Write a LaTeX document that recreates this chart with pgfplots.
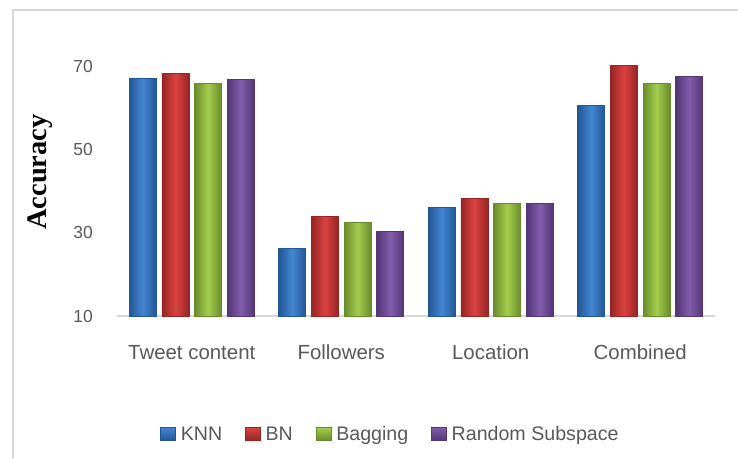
\documentclass[border=0pt]{standalone}
\usepackage{fontspec}
\setmainfont{Liberation Sans}
\newfontfamily\timesfont{Liberation Serif}
\usepackage{pgfplots}
\pgfplotsset{compat=1.18}
\definecolor{txt}{HTML}{595959}
\definecolor{frame}{HTML}{D9D9D9}
\definecolor{knnL}{RGB}{66,134,210}
\definecolor{knnD}{RGB}{36,86,150}
\definecolor{bnL}{RGB}{218,66,64}
\definecolor{bnD}{RGB}{150,36,36}
\definecolor{bagL}{RGB}{165,205,78}
\definecolor{bagD}{RGB}{104,140,42}
\definecolor{rsL}{RGB}{132,92,172}
\definecolor{rsD}{RGB}{82,54,118}
\pgfplotsset{
  mybar/.style={ybar, bar width=0.1806, forget plot, line width=0.6bp},
  knnbar/.style={mybar, bar shift=-0.328, draw=knnD, left color=knnD, right color=knnD, middle color=knnL},
  bnbar/.style={mybar, bar shift=-0.109, draw=bnD, left color=bnD, right color=bnD, middle color=bnL},
  bagbar/.style={mybar, bar shift=0.109, draw=bagD, left color=bagD, right color=bagD, middle color=bagL},
  rsbar/.style={mybar, bar shift=0.328, draw=rsD, left color=rsD, right color=rsD, middle color=rsL},
}
\begin{document}
\begin{tikzpicture}
\path[use as bounding box] (-117bp,-143bp) rectangle (621bp,316bp);
\draw[frame, line width=2bp] (-104bp,-150bp) -- (-104bp,306bp) -- (630bp,306bp);
\begin{axis}[
  at={(0,0)}, anchor=south west,
  scale only axis, width=598bp, height=258.33bp,
  xmin=-0.5, xmax=3.5, ymin=10, ymax=72,
  axis x line*=bottom, axis y line*=left,
  x axis line style={draw=frame, line width=2bp, -},
  y axis line style={draw=none},
  xtick={0,1,2,3},
  xticklabels={Tweet content, Followers, Location, Combined},
  ytick={10,30,50,70},
  major tick length=0pt,
  tick style={draw=none},
  /pgf/number format/assume math mode=true,
  xticklabel style={font=\fontsize{20.5}{24}\selectfont, text=txt, anchor=base, inner sep=0pt, yshift=-43bp},
  yticklabel style={font=\fontsize{17.5}{20}\selectfont, text=txt, anchor=east, inner sep=0pt, xshift=-24bp},
  ylabel={Accuracy},
  ylabel style={font=\timesfont\bfseries\fontsize{28.5}{32}\selectfont, at={(axis description cs:-0.129,0.5574)}, rotate=0, anchor=center},
  clip=false,
  legend columns=4,
  legend style={draw=none, fill=none, at={(axis description cs:0.4565,-0.4568)}, anchor=center,
    font=\fontsize{19.7}{23}\selectfont, text=txt,
    /tikz/every odd column/.append style={column sep=4bp},
    /tikz/every even column/.append style={column sep=22bp},
    nodes={inner sep=1bp}},
  legend image code/.code={\path[#1] (0bp,-6.5bp) rectangle (15bp,6.5bp);},
]
\addplot[knnbar] coordinates {(0,67.1)};
\addplot[knnbar] coordinates {(1,26.2)};
\addplot[knnbar] coordinates {(2,36.1)};
\addplot[knnbar] coordinates {(3,60.6)};
\addplot[bnbar] coordinates {(0,68.2)};
\addplot[bnbar] coordinates {(1,34.0)};
\addplot[bnbar] coordinates {(2,38.2)};
\addplot[bnbar] coordinates {(3,70.2)};
\addplot[bagbar] coordinates {(0,65.8)};
\addplot[bagbar] coordinates {(1,32.5)};
\addplot[bagbar] coordinates {(2,37.0)};
\addplot[bagbar] coordinates {(3,65.8)};
\addplot[rsbar] coordinates {(0,66.8)};
\addplot[rsbar] coordinates {(1,30.3)};
\addplot[rsbar] coordinates {(2,37.0)};
\addplot[rsbar] coordinates {(3,67.5)};
\addlegendimage{draw=knnD, top color=knnL, bottom color=knnD}
\addlegendentry{KNN}
\addlegendimage{draw=bnD, top color=bnL, bottom color=bnD}
\addlegendentry{BN}
\addlegendimage{draw=bagD, top color=bagL, bottom color=bagD}
\addlegendentry{Bagging}
\addlegendimage{draw=rsD, top color=rsL, bottom color=rsD}
\addlegendentry{Random Subspace}
\end{axis}
\end{tikzpicture}
\end{document}
